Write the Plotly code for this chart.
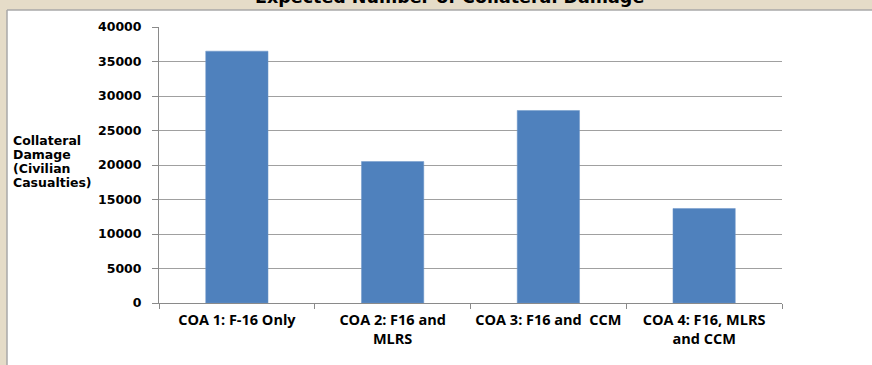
import plotly.graph_objects as go

categories = ["COA 1: F-16 Only", "COA 2: F16 and<br>MLRS", "COA 3: F16 and  CCM", "COA 4: F16, MLRS<br>and CCM"]
values = [36500, 20500, 27900, 13700]
y_ticks = [0, 5000, 10000, 15000, 20000, 25000, 30000, 35000, 40000]
y_title_lines = ["Collateral", "Damage", "(Civilian", "Casualties)"]
title_text = "Expected Number of Collateral Damage"

W, H = 872, 365
ml, mr, mt, mb = 159, 90, 27, 62
pw, ph = W - ml - mr, H - mt - mb
BEIGE = "#E5DCC8"

def px_x(x):
    return (x - ml) / pw

def px_y(y):
    return 1 - (y - mt) / ph

fig = go.Figure()
fig.add_trace(go.Bar(x=categories, y=values, marker=dict(color="#4F81BD", line=dict(color="#6F97C9", width=0.5))))

shapes = [
    # beige frame strips (left and top)
    dict(type="rect", xref="paper", yref="paper", layer="below",
         x0=px_x(-60), x1=px_x(7), y0=px_y(H + 60), y1=px_y(-60),
         fillcolor=BEIGE, line=dict(width=0)),
    dict(type="rect", xref="paper", yref="paper", layer="below",
         x0=px_x(-60), x1=px_x(W + 60), y0=px_y(10), y1=px_y(-60),
         fillcolor=BEIGE, line=dict(width=0)),
    dict(type="line", xref="paper", yref="paper", layer="below",
         x0=px_x(7), x1=px_x(W + 60), y0=px_y(10), y1=px_y(10),
         line=dict(color="#A8A8A8", width=1.5)),
    dict(type="line", xref="paper", yref="paper", layer="below",
         x0=px_x(7), x1=px_x(7), y0=px_y(10), y1=px_y(H + 60),
         line=dict(color="#A8A8A8", width=1.5)),
]

annotations = [
    dict(text="<b>" + title_text + "</b>", xref="paper", yref="paper",
         x=px_x(449), y=px_y(9), xanchor="center", yanchor="bottom", showarrow=False,
         font=dict(family="DejaVu Sans", size=17.5, color="black")),
]
for i, line in enumerate(y_title_lines):
    annotations.append(dict(text="<b>" + line + "</b>", xref="paper", yref="paper",
                            x=px_x(11), y=px_y(140 + 14 * i), xanchor="left", yanchor="middle",
                            showarrow=False,
                            font=dict(family="DejaVu Sans", size=12.5, color="black")))

fig.update_layout(
    width=W, height=H,
    margin=dict(l=ml, r=mr, t=mt, b=mb),
    paper_bgcolor="white",
    plot_bgcolor="white",
    bargap=0.6,
    showlegend=False,
    font=dict(family="DejaVu Sans", color="black"),
    shapes=shapes,
    annotations=annotations,
)

fig.update_yaxes(
    range=[0, 40000], tickvals=y_ticks, ticktext=[str(v) for v in y_ticks],
    showgrid=True, gridcolor="#A0A0A0", gridwidth=1,
    showline=True, linecolor="#8A8A8A", linewidth=1,
    ticks="outside", ticklen=6, tickcolor="#8A8A8A",
    tickfont=dict(family="DejaVu Sans", size=12.5, color="black", weight="bold"),
    zeroline=False, ticklabelstandoff=8,
)
fig.update_xaxes(
    showline=True, linecolor="#8A8A8A", linewidth=1,
    ticks="outside", ticklen=5, tickcolor="#8A8A8A", tickson="boundaries",
    tickfont=dict(family="Open Sans", size=14.5, color="black", weight="bold"),
    showgrid=False, tickangle=0, ticklabelstandoff=4,
)

fig.write_html("out.html")
